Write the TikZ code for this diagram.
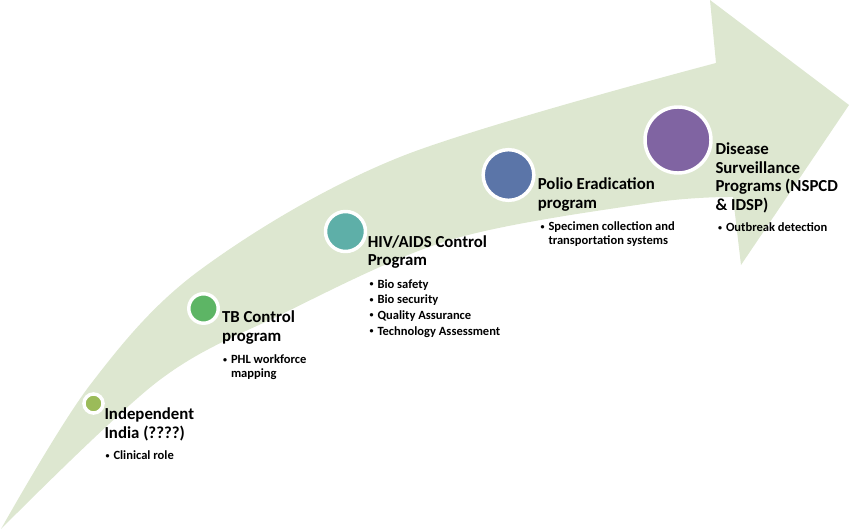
\documentclass[tikz,border=0pt]{standalone}
\usepackage{fontspec}
\setmainfont{Carlito}
\definecolor{bandgreen}{RGB}{221,231,208}
\definecolor{indiacol}{RGB}{155,187,89}
\definecolor{tbcol}{RGB}{93,181,101}
\definecolor{hivcol}{RGB}{94,175,168}
\definecolor{poliocol}{RGB}{91,117,168}
\definecolor{diseasecol}{RGB}{128,100,162}
\newcommand{\bul}{\makebox[6pt][l]{\raisebox{0.25ex}{\fontsize{6}{6}\selectfont\textbullet}}}
\newcommand{\ind}{\hspace*{6pt}}
\tikzset{every picture/.style={line width=0.75pt}}
\tikzset{
  milestone/.style={circle, draw=white, line width=2.6pt, inner sep=0pt},
  headtext/.style={anchor=north west, align=left, inner sep=0pt, font=\fontsize{12.6}{13.9}\selectfont\bfseries},
  bullettext/.style={anchor=north west, align=left, inner sep=0pt, font=\fontsize{9.4}{10.5}\selectfont\bfseries}
}
\begin{document}
\begin{tikzpicture}[x=0.75pt,y=0.75pt,yscale=-1,xscale=1]
\useasboundingbox (0,0) rectangle (850,531);
%Shape: Curved Arrow
\fill[bandgreen] plot[smooth, tension=0.55] coordinates {(1,529) (90,385) (200,270) (400,157) (716,63)}
  -- (710,0) -- (849,105) -- (741,265) -- (733,197)
  -- plot[smooth, tension=0.55] coordinates {(733,197) (650,203) (450,240) (280,315) (157,382) (1,529)} -- cycle;
%Shape: Circle
\node[milestone, fill=indiacol, minimum size=14.3pt] (india) at (93.5,403.5) {};
%Shape: Circle
\node[milestone, fill=tbcol, minimum size=22.1pt] (tb) at (203.5,308.5) {};
%Shape: Circle
\node[milestone, fill=hivcol, minimum size=30pt] (hiv) at (345.5,231.5) {};
%Shape: Circle
\node[milestone, fill=poliocol, minimum size=38pt] (polio) at (508.5,175) {};
%Shape: Circle
\node[milestone, fill=diseasecol, minimum size=49.5pt] (disease) at (678,140) {};
% Text Node
\node[headtext] (indiatitle) at (104,407.2) {Independent\\India (????)};
\node[bullettext] (indiabul) at (105,450.3) {\bul Clinical role};
% Text Node
\node[headtext] (tbtitle) at (221.5,310.2) {TB Control\\program};
\node[bullettext] (tbbul) at (222.5,354.6) {\bul PHL workforce\\\ind mapping};
% Text Node
\node[headtext] (hivtitle) at (367.3,234.9) {HIV/AIDS Control\\Program};
\node[bullettext] (hivbul) at (369,279) {\bul Bio safety\\[1.2pt]\bul Bio security\\[1.2pt]\bul Quality Assurance\\[1.2pt]\bul Technology Assessment};
% Text Node
\node[headtext] (poliotitle) at (537.3,177.5) {Polio Eradication\\program};
\node[bullettext] (poliobul) at (540,221.3) {\bul Specimen collection and\\\ind transportation systems};
% Text Node
\node[headtext] (diseasetitle) at (715,142.2) {Disease\\Surveillance\\Programs (NSPCD\\\& IDSP)};
\node[bullettext] (diseasebul) at (717.5,222.3) {\bul Outbreak detection};
\end{tikzpicture}
\end{document}
